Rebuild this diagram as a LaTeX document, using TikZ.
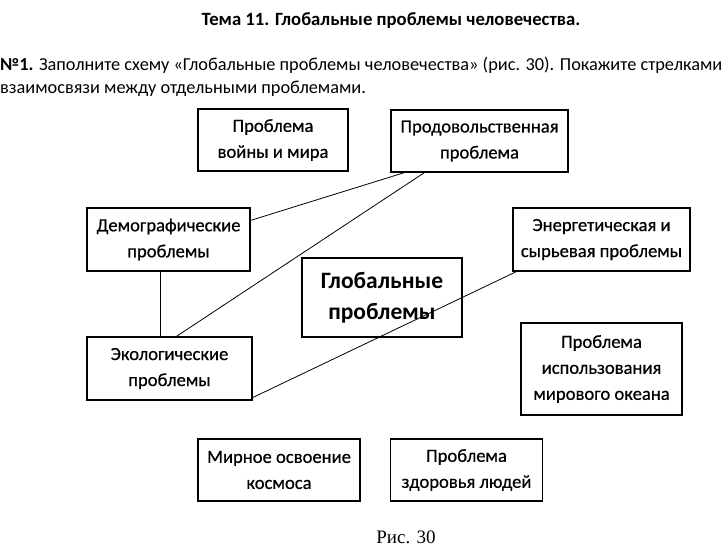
\documentclass[tikz,border=0pt]{standalone}
\usepackage{fontspec}
\setmainfont{Carlito}
\newfontfamily\capfont{Liberation Serif}
\newfontfamily\boxfont[FakeBold=0.6]{Carlito}
\usetikzlibrary{positioning, calc}

\begin{document}
\begin{tikzpicture}[x=1pt, y=-1pt,
        problembox/.style={draw, line width=1.2pt, align=center, inner sep=0pt,
            font=\boxfont\fontsize{18.6}{26}\selectfont},
        link/.style={line width=0.8pt}]
    \useasboundingbox[fill=white] (0,0) rectangle (722,550);
    % header
    \node[font=\fontsize{18.7}{20}\selectfont\bfseries] (title) at (391,21) {Тема 11. Глобальные проблемы человечества.};
    \node[anchor=west, inner sep=0pt, font=\fontsize{18.3}{20}\selectfont] (task1) at (0,65) {\textbf{№1.} Заполните схему «Глобальные проблемы человечества» (рис. 30). Покажите стрелками};
    \node[anchor=west, inner sep=0pt, font=\fontsize{18.3}{20}\selectfont] (task2) at (0,89) {взаимосвязи между отдельными проблемами.};
    % boxes
    \node[problembox, minimum width=150, minimum height=62] (war) at (273,140) {Проблема\\войны и мира};
    \node[problembox, minimum width=177, minimum height=62] (food) at (479.5,141) {Продовольственная\\проблема};
    \node[problembox, minimum width=163, minimum height=63] (demo) at (168.5,239.5) {Демографические\\проблемы};
    \node[problembox, minimum width=177, minimum height=63] (energy) at (601.5,239.5) {Энергетическая и\\сырьевая проблемы};
    \node[problembox, minimum width=160, minimum height=79, font=\fontsize{23.5}{31}\selectfont\bfseries] (global) at (382,297.5) {Глобальные\\проблемы};
    \node[problembox, minimum width=165, minimum height=63] (eco) at (169.5,368.5) {Экологические\\проблемы};
    \node[problembox, minimum width=161, minimum height=92] (ocean) at (601.5,369) {Проблема\\использования\\мирового океана};
    \node[problembox, minimum width=162, minimum height=62] (space) at (279,470) {Мирное освоение\\космоса};
    \node[problembox, minimum width=152, minimum height=62] (health) at (466.5,470) {Проблема\\здоровья людей};
    \node[font=\capfont\fontsize{19}{20}\selectfont] (caption) at (406,537) {Рис. 30};
    % links
    \draw[link] ($(food.south west)+(14,0)$) -- ($(demo.north east)+(0,13)$);
    \draw[link] ($(food.south west)+(34,0)$) -- ($(eco.north west)+(90,0)$);
    \draw[link] ($(demo.south)+(-8,0)$) -- ($(eco.north)+(-9,0)$);
    \draw[link] ($(energy.south west)+(4,0)$) -- ($(eco.south east)+(0,-3)$);
\end{tikzpicture}
\end{document}
